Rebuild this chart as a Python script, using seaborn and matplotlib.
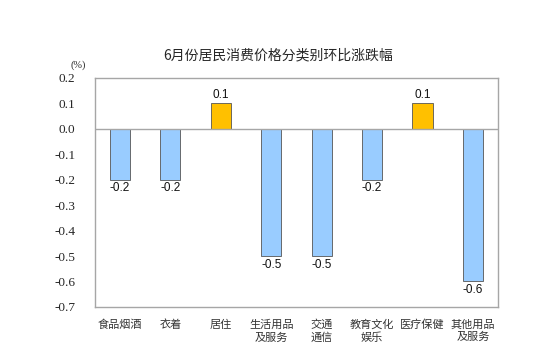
import matplotlib
matplotlib.use("Agg")
import matplotlib.pyplot as plt
import seaborn as sns
import pandas as pd

# data
categories = ["食品烟酒", "衣着", "居住", "生活用品\n及服务", "交通\n通信",
              "教育文化\n娱乐", "医疗保健", "其他用品\n及服务"]
values = [-0.2, -0.2, 0.1, -0.5, -0.5, -0.2, 0.1, -0.6]
y_ticks = [0.2, 0.1, 0.0, -0.1, -0.2, -0.3, -0.4, -0.5, -0.6, -0.7]
title = "6月份居民消费价格分类别环比涨跌幅"

sns.set_theme(style="white")
# serif digits on the value axis, CJK falls through to Noto
plt.rcParams["font.family"] = ["Liberation Serif", "Noto Sans CJK SC", "DejaVu Sans"]
cjk = ["Noto Sans CJK SC", "DejaVu Sans"]

df = pd.DataFrame({"cat": categories, "val": values})
df["sign"] = ["up" if v > 0 else "down" for v in values]

fig = plt.figure(figsize=(5.51, 3.59), dpi=100)
ax = fig.add_axes([0.172, 0.145, 0.732, 0.638])

sns.barplot(data=df, x="cat", y="val", hue="sign",
            palette={"up": "#FFC000", "down": "#99CCFF"}, saturation=1,
            dodge=False, width=0.4, edgecolor="#555555", linewidth=0.6,
            legend=False, ax=ax)

for cont in ax.containers:
    ax.bar_label(cont, fmt="%.1f", padding=2, fontsize=8.5,
                 family="Liberation Sans", color="#111111")

ax.axhline(0, color="#A6A6A6", lw=1)
ax.set_ylim(-0.7, 0.2)
ax.set_xlim(-0.5, len(categories) - 0.5)
ax.set_yticks(y_ticks)
ax.set_yticklabels([f"{t:.1f}" for t in y_ticks])
ax.tick_params(axis="y", labelsize=9.5, pad=8)
ax.tick_params(axis="x", labelsize=8, labelcolor="#333333", pad=3)
for lbl in ax.get_xticklabels():
    lbl.set_linespacing(1.3)
    lbl.set_fontfamily(cjk)
ax.set_xlabel("")
ax.set_ylabel("")
for s in ax.spines.values():
    s.set_color("#A6A6A6")
    s.set_linewidth(1)

fig.text(0.142, 0.81, "(%)", fontsize=7.5, ha="center")
fig.text(0.505, 0.845, title, fontsize=10, ha="center", va="center", family=cjk)

fig.savefig("out.png", dpi=100)
